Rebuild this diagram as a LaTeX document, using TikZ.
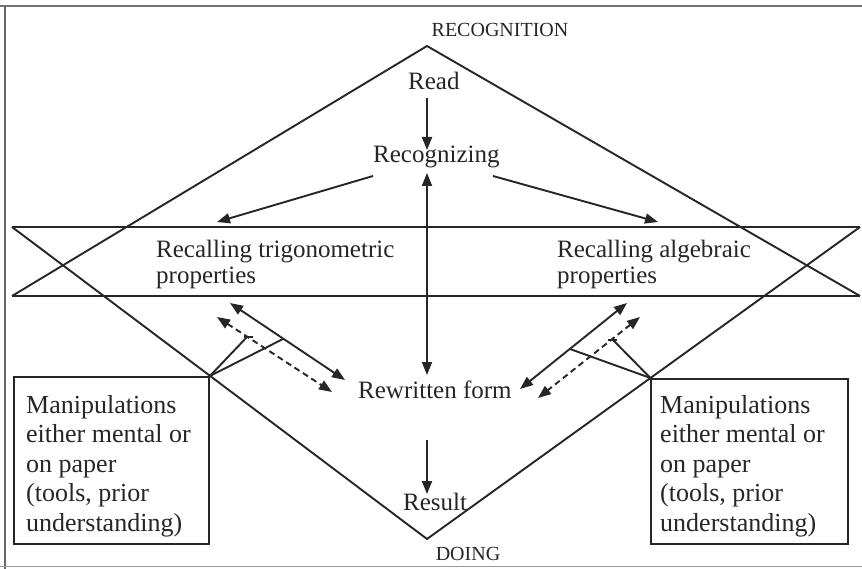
\documentclass[tikz,border=0pt]{standalone}
\usepackage{fontspec}
\setmainfont{Liberation Serif}
\usetikzlibrary{arrows.meta}
\begin{document}
\begin{tikzpicture}[x=1pt,y=-1pt,
  ink/.style={draw=black!85, line width=1.9pt},
  onetip/.style={-{Triangle[length=13pt,width=10pt]}},
  twotips/.style={{Triangle[length=13pt,width=10pt]}-{Triangle[length=13pt,width=10pt]}},
  dashline/.style={dash pattern=on 6pt off 4pt},
  lbl/.style={inner sep=0pt, anchor=base west, text=black!85, align=left,
    font=\fontsize{25}{27}\selectfont},
  boxtxt/.style={inner sep=0pt, anchor=base west, text=black!85, align=left,
    font=\fontsize{26}{29.5}\selectfont},
  caplbl/.style={inner sep=0pt, anchor=base, text=black!85,
    font=\fontsize{20}{22}\selectfont},
  boxframe/.style={draw=black!85, line width=1.9pt, inner sep=0pt, anchor=north west}
]
\useasboundingbox (0,0) rectangle (862,569);
\fill[white] (0,0) rectangle (862,569);
% page frame (scan)
\draw[black!55, line width=1.8pt] (0,6) -- (862,6);
\draw[black!60, line width=1.2pt] (5,6) -- (5,569);
\draw[black!40, line width=1pt] (0,566) -- (862,566);

% main shape
\coordinate (top) at (427,46);
\coordinate (bot) at (427,539);
\coordinate (bl1) at (12,227);
\coordinate (br1) at (860,227);
\coordinate (bl2) at (12,296);
\coordinate (br2) at (860,296);
\draw[ink] (bl2) -- (top) -- (br2);
\draw[ink] (bl1) -- (bot) -- (br1);
\draw[ink] (bl1) -- (br1);
\draw[ink] (bl2) -- (br2);

% texts (base anchor = baseline of the last line)
\node[caplbl] (recog) at (500,37) {RECOGNITION};
\node[caplbl] (doing) at (468,560) {DOING};
\node[lbl] (read) at (408,90) {Read};
\node[lbl] (recz) at (373,163) {Recognizing};
\node[lbl] (trig) at (156,284) {Recalling trigonometric\\properties};
\node[lbl] (alg) at (557,284) {Recalling algebraic\\properties};
\node[lbl] (rew) at (358,398) {Rewritten form};
\node[lbl] (res) at (403,510) {Result};

% boxes
\coordinate (lc) at (intersection of bl1--bot and 0,376--862,376);
\coordinate (rc) at (intersection of br1--bot and 0,378--862,378);
\node[boxframe, minimum width=195pt, minimum height=167pt] (lbox) at (13,376) {};
\node[boxframe, minimum width=197pt, minimum height=165pt] (rbox) at (rc) {};
\node[boxtxt] (ltxt) at (26,531) {Manipulations\\either mental or\\on paper\\(tools, prior\\understanding)};
\node[boxtxt] (rtxt) at (660,531) {Manipulations\\either mental or\\on paper\\(tools, prior\\understanding)};

% arrow end points
\coordinate (a1s) at (427,98);   \coordinate (a1e) at (427,150);
\coordinate (a2s) at (427,173);  \coordinate (a2e) at (427,375);
\coordinate (a3s) at (373,176);  \coordinate (a3e) at (217,222);
\coordinate (a4s) at (493,176);  \coordinate (a4e) at (658,222);
\coordinate (a5s) at (230,303);  \coordinate (a5e) at (345,380);
\coordinate (a6s) at (217,317);  \coordinate (a6e) at (332,392);
\coordinate (a7s) at (627,303);  \coordinate (a7e) at (520,389);
\coordinate (a8s) at (640,317);  \coordinate (a8e) at (538,398);
\coordinate (a9s) at (427,440);  \coordinate (a9e) at (427,494);

\draw[ink, onetip] (a1s) -- (a1e);
\draw[ink, twotips] (a2s) -- (a2e);
\draw[ink, onetip] (a3s) -- (a3e);
\draw[ink, onetip] (a4s) -- (a4e);
\draw[ink, twotips] (a5s) -- (a5e);
\draw[ink, twotips, dashline] (a6s) -- (a6e);
\draw[ink, twotips] (a7s) -- (a7e);
\draw[ink, twotips, dashline] (a8s) -- (a8e);
\draw[ink, onetip] (a9s) -- (a9e);

% brace-like links from the box corners
\coordinate (l1) at (283,339);
\coordinate (l2) at (247,337);
\coordinate (r1) at (570,349);
\coordinate (r2) at (613,340);
\draw[ink] (lbox.north east) -- (l1);
\draw[ink] (lbox.north east) -- (l2);
\draw[ink] (244,337) -- (253,337);
\draw[ink] (rbox.north west) -- (r1);
\draw[ink] (rbox.north west) -- (r2);
\draw[ink] (608,340) -- (617,340);
\end{tikzpicture}
\end{document}
